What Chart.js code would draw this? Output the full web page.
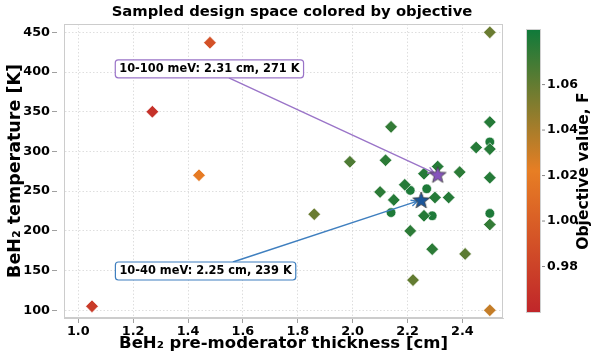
<!DOCTYPE html>
<html>
<head>
<meta charset="utf-8">
<script src="https://cdn.jsdelivr.net/npm/chart.js@4.4.0/dist/chart.umd.min.js"></script>
<style>
  html, body { margin: 0; padding: 0; background: #fff; }
</style>
</head>
<body>
<canvas id="chart" width="594" height="357"></canvas>
<script>
// sampled designs drawn as diamonds: thickness [cm], temperature [K], objective F
const diamondX = [1.05, 1.27, 1.48, 1.44, 1.86, 1.99, 2.14, 2.12, 2.10, 2.15, 2.19, 2.21, 2.22, 2.26,
                  2.31, 2.30, 2.26, 2.29, 2.35, 2.39, 2.41, 2.45, 2.50, 2.50, 2.50, 2.50, 2.50, 2.50];
const diamondY = [105, 350, 437, 270, 221, 287, 331, 289, 249, 239, 258, 200, 138, 272,
                  281, 242, 219, 177, 242, 274, 171, 305, 337, 303, 267, 208, 450, 100];
const diamondF = [0.975, 0.968, 0.99, 1.02, 1.058, 1.066, 1.074, 1.076, 1.076, 1.078, 1.078, 1.076, 1.06, 1.078,
                  1.078, 1.078, 1.078, 1.076, 1.078, 1.076, 1.062, 1.078, 1.078, 1.078, 1.078, 1.074, 1.058, 1.032];

// sampled designs drawn as circles
const circleX = [2.14, 2.21, 2.27, 2.29, 2.50, 2.50];
const circleY = [223, 251, 253, 219, 312, 222];
const circleF = [1.08, 1.08, 1.08, 1.08, 1.08, 1.08];

// optima (stars) and their labels
const optNames = ['10-40 meV: 2.25 cm, 239 K', '10-100 meV: 2.31 cm, 271 K'];
const optX = [2.25, 2.31];
const optY = [239, 271];
const optLabelX = [1.464, 1.478];
const optLabelY = [149.5, 404];

const xTicks = [1.0, 1.2, 1.4, 1.6, 1.8, 2.0, 2.2, 2.4];
const yTicks = [100, 150, 200, 250, 300, 350, 400, 450];
const cbTicks = [0.98, 1.00, 1.02, 1.04, 1.06];
const cbMin = 0.96, cbMax = 1.084;

const starFill = ['#1a5599', '#8654bd'];
const arrowColor = ['#3f7fbf', '#9a74c8'];
const FONT = 'DejaVu Sans';

// red -> orange -> green colormap
const cmapStops = [[0, [192, 38, 42]], [0.5, [231, 126, 36]], [1, [16, 122, 58]]];
function cmap(v) {
  let t = (v - cbMin) / (cbMax - cbMin);
  t = Math.max(0, Math.min(1, t));
  for (let i = 0; i < cmapStops.length - 1; i++) {
    const [t0, c0] = cmapStops[i];
    const [t1, c1] = cmapStops[i + 1];
    if (t <= t1) {
      const f = (t - t0) / (t1 - t0);
      const c = c0.map((a, k) => Math.round(a + (c1[k] - a) * f));
      return 'rgb(' + c.join(',') + ')';
    }
  }
  return 'rgb(' + cmapStops[cmapStops.length - 1][1].join(',') + ')';
}

function makeStar(fill) {
  const c = document.createElement('canvas');
  c.width = 22; c.height = 22;
  const g = c.getContext('2d');
  const R = 8.8, r = 3.7;
  g.beginPath();
  for (let i = 0; i < 10; i++) {
    const a = -Math.PI / 2 + i * Math.PI / 5;
    const rad = i % 2 === 0 ? R : r;
    const px = 11 + rad * Math.cos(a), py = 11.8 + rad * Math.sin(a);
    if (i === 0) g.moveTo(px, py); else g.lineTo(px, py);
  }
  g.closePath();
  g.fillStyle = fill;
  g.fill();
  g.lineWidth = 0.8;
  g.strokeStyle = '#3a3a3a';
  g.stroke();
  return c;
}
const starImgs = starFill.map(makeStar);

const extras = {
  id: 'extras',
  beforeDatasetDraw(chart, args) {
    // arrows go under the stars but over the other markers
    if (args.index !== 0) return;
    const { ctx, scales: { x, y } } = chart;
    for (let i = 0; i < optX.length; i++) {
      const cx = x.getPixelForValue(optLabelX[i]), cy = y.getPixelForValue(optLabelY[i]);
      const tx = x.getPixelForValue(optX[i]), ty = y.getPixelForValue(optY[i]);
      const dx = tx - cx, dy = ty - cy;
      const len = Math.hypot(dx, dy);
      const ux = dx / len, uy = dy / len;
      // start where the line leaves the label box (half height 9)
      const s = Math.abs(9 / uy);
      const sx = cx + ux * s, sy = cy + uy * s;
      const ex = tx - ux * 4, ey = ty - uy * 4;
      ctx.save();
      ctx.strokeStyle = arrowColor[i];
      ctx.lineWidth = 1.4;
      ctx.beginPath();
      ctx.moveTo(sx, sy);
      ctx.lineTo(ex, ey);
      const ang = Math.atan2(uy, ux);
      for (const d of [0.45, -0.45]) {
        ctx.moveTo(ex, ey);
        ctx.lineTo(ex - 7 * Math.cos(ang + d), ey - 7 * Math.sin(ang + d));
      }
      ctx.stroke();
      ctx.restore();
    }
  },
  afterDatasetsDraw(chart) {
    const { ctx, chartArea: a, scales: { x, y } } = chart;
    ctx.save();
    // frame
    ctx.strokeStyle = '#cccccc';
    ctx.lineWidth = 1;
    ctx.strokeRect(a.left + 0.5, a.top + 0.5, a.right - a.left - 1, a.bottom - a.top - 1);
    // label boxes
    ctx.font = 'bold 11.4px ' + FONT;
    ctx.textAlign = 'center';
    ctx.textBaseline = 'middle';
    for (let i = 0; i < optX.length; i++) {
      const cx = x.getPixelForValue(optLabelX[i]), cy = y.getPixelForValue(optLabelY[i]);
      const w = ctx.measureText(optNames[i]).width + 8;
      ctx.beginPath();
      ctx.roundRect(cx - w / 2, cy - 9, w, 18, 3);
      ctx.fillStyle = '#fff';
      ctx.fill();
      ctx.strokeStyle = arrowColor[i];
      ctx.lineWidth = 1.2;
      ctx.stroke();
      ctx.fillStyle = '#000';
      ctx.fillText(optNames[i], cx, cy + 0.5);
    }
    ctx.restore();
  },
  afterDraw(chart) {
    const { ctx } = chart;
    ctx.save();
    // title
    ctx.font = 'bold 14.8px ' + FONT;
    ctx.fillStyle = '#000';
    ctx.textAlign = 'center';
    ctx.textBaseline = 'middle';
    ctx.fillText('Sampled design space colored by objective', 292, 12);
    // colorbar
    const L = 527, W = 13, T = 30, B = 312;
    const grad = ctx.createLinearGradient(0, B, 0, T);
    cmapStops.forEach(([t, c]) => grad.addColorStop(t, 'rgb(' + c.join(',') + ')'));
    ctx.fillStyle = grad;
    ctx.fillRect(L, T, W, B - T);
    ctx.strokeStyle = '#d0d0d0';
    ctx.lineWidth = 1;
    ctx.strokeRect(L - 0.5, T - 0.5, W + 1, B - T + 1);
    ctx.font = 'bold 12.5px ' + FONT;
    ctx.textAlign = 'left';
    ctx.fillStyle = '#000';
    cbTicks.forEach(v => {
      const yy = B - (v - cbMin) / (cbMax - cbMin) * (B - T);
      ctx.strokeStyle = '#888';
      ctx.beginPath();
      ctx.moveTo(L + W + 2, yy);
      ctx.lineTo(L + W + 5, yy);
      ctx.stroke();
      ctx.fillText(v.toFixed(2), L + W + 7, yy);
    });
    ctx.translate(584, (T + B) / 2);
    ctx.rotate(-Math.PI / 2);
    ctx.textAlign = 'center';
    ctx.font = 'bold 15.5px ' + FONT;
    ctx.fillText('Objective value, F', 0, 0);
    ctx.restore();
  }
};

const ctx = document.getElementById('chart');
new Chart(ctx, {
  type: 'scatter',
  data: {
    datasets: [
      {
        label: 'optima',
        data: optX.map((v, i) => ({ x: v, y: optY[i] })),
        pointStyle: starImgs,
        pointRadius: 10,
      },
      {
        label: 'diamonds',
        data: diamondX.map((v, i) => ({ x: v, y: diamondY[i] })),
        pointStyle: 'rectRot',
        pointRadius: 6.3,
        backgroundColor: diamondF.map(cmap),
        borderColor: '#ffffff',
        borderWidth: 0.6,
      },
      {
        label: 'circles',
        data: circleX.map((v, i) => ({ x: v, y: circleY[i] })),
        pointStyle: 'circle',
        pointRadius: 4.8,
        backgroundColor: circleF.map(cmap),
        borderColor: '#ffffff',
        borderWidth: 0.6,
      }
    ]
  },
  options: {
    responsive: false,
    animation: false,
    devicePixelRatio: 1,
    layout: { padding: { top: 24, right: 91, bottom: 0, left: 0 } },
    plugins: { legend: { display: false }, tooltip: { enabled: false } },
    scales: {
      x: {
        type: 'linear',
        min: 0.948,
        max: 2.548,
        afterBuildTicks: s => { s.ticks = xTicks.map(v => ({ value: v })); },
        afterFit: s => { s.height = 39; },
        ticks: {
          callback: v => v.toFixed(1),
          font: { family: FONT, size: 12.8, weight: 'bold' },
          color: '#000',
          padding: 0,
        },
        grid: { color: '#d6d6d6', lineWidth: 0.8, tickLength: 6, tickColor: '#888', tickBorderDash: [4, 20] },
        border: { color: '#cccccc', dash: [1.5, 2] },
        title: {
          display: true,
          text: 'BeH₂ pre-moderator thickness [cm]',
          font: { family: FONT, size: 16.5, weight: 'bold' },
          color: '#000',
          padding: { top: 0, bottom: 3 },
        }
      },
      y: {
        type: 'linear',
        min: 90.3,
        max: 460.5,
        afterBuildTicks: s => { s.ticks = yTicks.map(v => ({ value: v })); },
        afterFit: s => { s.width = 64; },
        ticks: {
          callback: v => String(v),
          font: { family: FONT, size: 12.8, weight: 'bold' },
          color: '#000',
          padding: 2,
        },
        grid: { color: '#d6d6d6', lineWidth: 0.8, tickLength: 12, tickColor: '#888', tickBorderDash: [5, 20] },
        border: { color: '#cccccc', dash: [1.5, 2] },
        title: {
          display: true,
          text: 'BeH₂ temperature [K]',
          font: { family: FONT, size: 17.5, weight: 'bold' },
          color: '#000',
          padding: { top: 5, bottom: 0 },
        }
      }
    }
  },
  plugins: [extras]
});
</script>
</body>
</html>
